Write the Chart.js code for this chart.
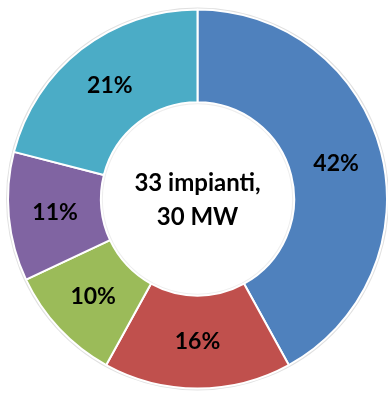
<!DOCTYPE html>
<html>
<head>
<meta charset="utf-8">
<script src="https://cdn.jsdelivr.net/npm/chart.js@4"></script>
<style>
  html, body { margin: 0; padding: 0; background: #fff; }
  #wrap { width: 388px; height: 397px; position: relative; }
</style>
</head>
<body>
<div id="wrap"><canvas id="grafico"></canvas></div>
<script>
var categorie = ["A", "B", "C", "D", "E"];
var quote = [42, 16, 10, 11, 21];
var colori = ["#4f81bd", "#c0504d", "#9bbb59", "#8064a2", "#4bacc6"];
var centro = ["33 impianti,", "30 MW"];

var FONT = "Lato, 'Open Sans', sans-serif";

// etichette percentuali dentro gli spicchi + testo al centro
var etichette = {
    id: 'etichette',
    beforeDatasetsDraw(chart) {
        // leggero bordo grigio attorno alla ciambella
        var a = chart.getDatasetMeta(0).data[0];
        var ctx = chart.ctx;
        ctx.save();
        ctx.strokeStyle = 'rgba(0,0,0,0.12)';
        ctx.lineWidth = 2;
        ctx.beginPath();
        ctx.arc(a.x, a.y, a.outerRadius + 1, 0, Math.PI * 2);
        ctx.stroke();
        ctx.beginPath();
        ctx.arc(a.x, a.y, a.innerRadius - 1, 0, Math.PI * 2);
        ctx.strokeStyle = 'rgba(0,0,0,0.07)';
        ctx.stroke();
        ctx.restore();
    },
    afterDatasetsDraw(chart) {
        var ctx = chart.ctx;
        var meta = chart.getDatasetMeta(0);
        ctx.save();
        ctx.fillStyle = '#000';
        ctx.textAlign = 'center';
        ctx.textBaseline = 'middle';
        ctx.font = 'bold 23px ' + FONT;
        meta.data.forEach(function (arc, i) {
            var p = arc.tooltipPosition();
            ctx.fillText(quote[i] + '%', p.x, p.y);
        });
        var a = meta.data[0];
        ctx.font = 'bold 24px ' + FONT;
        ctx.fillText(centro[0], a.x, a.y - 16);
        ctx.fillText(centro[1], a.x, a.y + 18);
        ctx.restore();
    }
};

var ct = document.getElementById("grafico");

var grafico = new Chart(ct, {
    type: 'doughnut',
    data: {
        labels: categorie,
        datasets: [{
            data: quote,
            backgroundColor: colori,
            borderColor: '#ffffff',
            borderWidth: 2
        }]
    },
    options: {
        responsive: true,
        maintainAspectRatio: false,
        animation: false,
        cutout: '51%',
        layout: { padding: { left: 7, right: 0, top: 8, bottom: 7 } },
        plugins: {
            legend: { display: false },
            tooltip: { enabled: false }
        }
    },
    plugins: [etichette]
});
</script>
</body>
</html>
